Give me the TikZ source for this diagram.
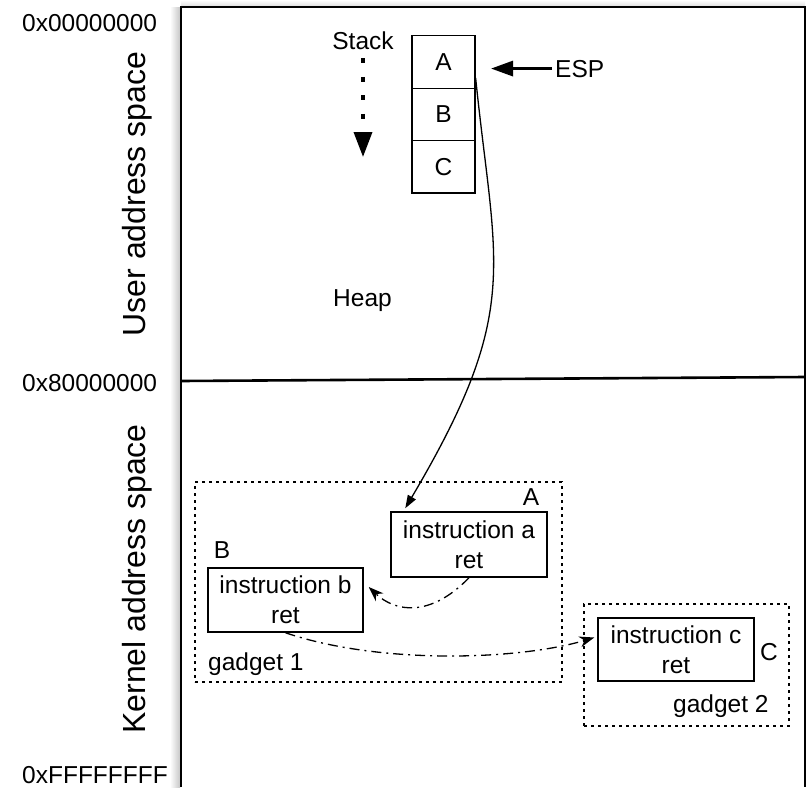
\documentclass[tikz,border=0pt]{standalone}
\usepackage{fontspec}
\setmainfont{Liberation Sans}
\usetikzlibrary{arrows.meta,calc}

\begin{document}
\begin{tikzpicture}[x=1pt,y=-1pt,
  lbl/.style={font=\fontsize{24.5}{30}\selectfont, inner sep=0pt},
  big/.style={font=\fontsize{32}{38}\selectfont, inner sep=0pt},
  cell/.style={draw, line width=1.3pt, minimum width=63pt, minimum height=52.4pt,
    inner sep=0pt, font=\fontsize{24.5}{30}\selectfont},
  instr/.style={draw, line width=1.5pt, inner sep=0pt, align=center,
    font=\fontsize{24.5}{30}\selectfont},
  gadgetbox/.style={draw, line width=1.4pt, dash pattern=on 3pt off 4pt, inner sep=0pt},
  frameline/.style={line width=2pt},
  dashdot/.style={line width=1.3pt, dash pattern=on 10pt off 5pt on 2pt off 5pt,
    -{Stealth[length=15pt,width=11pt]}},
]
\useasboundingbox (0,0) rectangle (808,787);

% soft shadow along the memory frame
\shade[left color=white, right color=black!22] (170,7) rectangle (180,787);
\shade[top color=white, bottom color=black!12] (181,0) rectangle (805,6);

% memory frame and user/kernel split
\draw[frameline] (181,787) -- (181,7) -- (805,7) -- (805,787);
\draw[line width=2.6pt] (181,381) -- (805,377);

% address labels
\node[lbl, anchor=base west] (addr0) at (22,31) {0x00000000};
\node[lbl, anchor=base west] (addr8) at (22,391) {0x80000000};
\node[lbl, anchor=base west] (addrF) at (22,783) {0xFFFFFFFF};
\node[big, rotate=90, anchor=base] (user) at (145,194) {User address space};
\node[big, rotate=90, anchor=base] (kernel) at (145,579) {Kernel address space};

% stack
\node[lbl, anchor=base] (stacklbl) at (363,49) {Stack};
\coordinate (stackTip) at (363,157);
\draw[line width=3.5pt, dash pattern=on 5pt off 13.5pt,
  -{Triangle[length=25pt,width=18pt]}] ([yshift=-9pt]stacklbl.south) -- (stackTip);

\node[cell] (cellA) at (443.5,62) {A};
\node[cell] (cellB) at (443.5,114.4) {B};
\node[cell] (cellC) at (443.5,166.8) {C};

\node[lbl, anchor=base west] (esp) at (555,77) {ESP};
\coordinate (espTip) at (491,67);
\draw[line width=3pt, -{Triangle[length=22pt,width=15pt]}]
  ([xshift=-3pt]esp.west) -- (esp.west -| espTip);

\node[lbl, anchor=base west] (heap) at (333,306) {Heap};

% gadgets
\node[gadgetbox, minimum width=367pt, minimum height=200pt] (g1) at (378.5,582) {};
\node[gadgetbox, minimum width=205pt, minimum height=122pt] (g2) at (686.5,665) {};

\node[instr, minimum width=156pt, minimum height=65pt] (insA) at (469,544.5)
  {instruction a\\ret};
\node[instr, minimum width=155pt, minimum height=64pt] (insB) at (285.5,600)
  {instruction b\\ret};
\node[instr, minimum width=156pt, minimum height=63pt] (insC) at (676,649.5)
  {instruction c\\ret};

\node[lbl] (labA) at (531,497) {A};
\node[lbl] (labB) at (222,550) {B};
\node[lbl] (labC) at (769,652) {C};
\node[lbl, anchor=base west] (g1lbl) at (208,670) {gadget 1};
\node[lbl, anchor=base west] (g2lbl) at (673,712) {gadget 2};

% return address A leads into kernel gadget
\draw[line width=1.3pt, -{Triangle[length=13pt,width=9pt]}]
  ([yshift=-16pt]cellA.east) .. controls (495,268) and (523,309) ..
  ([xshift=15pt,yshift=3pt]insA.north west);

% ret chains the gadgets
\draw[dashdot] (insA.south) .. controls (430,618) and (395,612) ..
  ([xshift=5pt,yshift=13pt]insB.east);
\draw[dashdot] (insB.south) .. controls (380,665) and (520,660) ..
  ([xshift=-3pt,yshift=12pt]insC.west);
\end{tikzpicture}
\end{document}
